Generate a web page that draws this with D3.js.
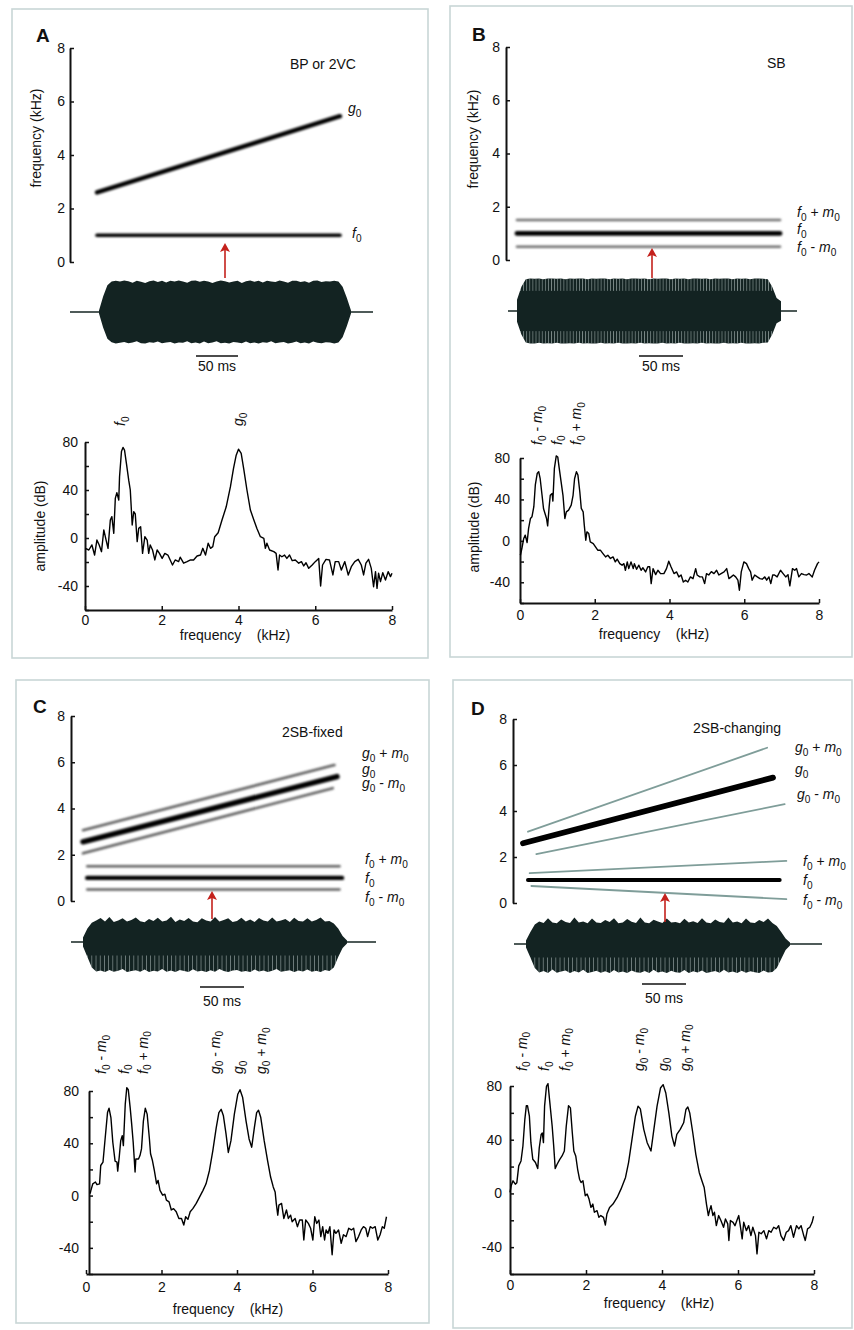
<!DOCTYPE html>
<html>
<head>
<meta charset="utf-8">
<script src="https://cdn.jsdelivr.net/npm/d3@7/dist/d3.min.js"></script>
<style>
  html,body{margin:0;padding:0;background:#fff;}
  svg text{font-family:"Liberation Sans", Arial, Helvetica, sans-serif; fill:#111;}
</style>
</head>
<body>
<svg id="fig" width="854" height="1330" viewBox="0 0 854 1330"></svg>
<script>
// ================= DATA =================
const freqTicks = [0, 2, 4, 6, 8];
const sgTicks = [0, 2, 4, 6, 8];
const dbTicks = [-60, -40, -20, 0, 20, 40, 60, 80];
const dbTickLabels = [-40, 0, 40, 80];
const panelLetters = ["A", "B", "C", "D"];
const panelTitles = ["BP or 2VC", "SB", "2SB-fixed", "2SB-changing"];
const scaleBarLabel = "50 ms";
const scaleBarMs = 50;

// spectrogram component lines (frequency in kHz, time in ms)
const sgA_label = ["g0", "f0"];
const sgA_fStart = [2.6, 1.0];
const sgA_fEnd = [5.45, 1.0];
const sgA_tStart = [0, 0];
const sgA_tEnd = [300, 300];

const sgB_label = ["f0 + m0", "f0", "f0 - m0"];
const sgB_fStart = [1.5, 1.0, 0.5];
const sgB_fEnd = [1.5, 1.0, 0.5];
const sgB_tStart = [0, 0, 0];
const sgB_tEnd = [300, 300, 300];

const sgC_label = ["g0 + m0", "g0", "g0 - m0", "f0 + m0", "f0", "f0 - m0"];
const sgC_fStart = [3.06, 2.56, 2.06, 1.5, 1.0, 0.5];
const sgC_fEnd = [5.88, 5.38, 4.88, 1.5, 1.0, 0.5];
const sgC_tStart = [0, 0, 0, 5, 5, 5];
const sgC_tEnd = [297, 300, 295, 303, 306, 303];

const sgD_label = ["g0 + m0", "g0", "g0 - m0", "f0 + m0", "f0", "f0 - m0"];
const sgD_fStart = [3.1, 2.6, 2.13, 1.3, 1.0, 0.74];
const sgD_fEnd = [6.75, 5.45, 4.3, 1.83, 1.0, 0.17];
const sgD_tStart = [6, 0, 16, 8, 6, 10];
const sgD_tEnd = [293, 300, 314, 316, 308, 316];

// waveform envelopes (relative amplitude) sampled every 5 ms over 0..300 ms
const waveTime = d3.range(0, 301, 5);
const waveA_top = [0.05,0.5,0.85,0.97,0.99,0.97,1,0.98,0.93,0.99,0.96,0.92,0.98,1,0.95,0.99,0.94,0.99,0.97,1,0.97,0.93,0.99,1,0.96,0.99,0.97,0.92,0.97,1,0.98,0.94,0.97,0.99,0.92,0.98,1,0.96,0.99,0.94,0.99,0.97,0.95,1,0.97,0.93,0.99,0.99,0.95,0.98,0.93,0.99,1,0.95,0.98,0.97,0.99,0.97,0.8,0.45,0.05];
const waveA_bot = [0.05,0.5,0.85,0.96,1,0.98,0.95,0.99,0.97,0.93,0.99,1,0.96,0.98,0.94,0.99,0.97,0.95,1,0.97,0.98,0.93,0.99,0.97,1,0.94,0.99,0.97,0.93,0.99,0.98,1,0.95,0.97,0.99,0.94,0.99,0.97,1,0.96,0.98,0.93,0.99,0.97,0.95,1,0.98,0.94,0.99,0.97,1,0.94,0.98,0.99,0.96,0.97,1,0.97,0.8,0.45,0.05];
const waveB_top = [0.35,0.75,0.98,1,0.99,1,0.98,1,1,0.99,1,0.98,1,0.99,1,1,0.98,1,0.99,1,1,0.98,1,0.99,1,0.98,1,1,0.99,1,0.98,1,0.99,1,1,0.98,1,0.99,1,0.98,1,1,0.99,1,0.98,1,0.99,1,1,0.98,1,0.99,1,0.98,1,1,0.99,0.98,0.75,0.4,0.3];
const waveB_bot = [0.33,0.72,0.97,1,1,0.98,1,0.99,1,0.98,1,1,0.99,1,0.98,1,0.99,1,1,0.98,1,0.99,1,0.98,1,1,0.99,1,0.98,1,0.99,1,1,0.98,1,0.99,1,0.98,1,1,0.99,1,0.98,1,0.99,1,1,0.98,1,0.99,1,0.98,1,1,0.99,1,0.98,0.97,0.72,0.38,0.3];
const waveC_top = [0.15,0.45,0.64,0.72,0.8,0.68,0.83,0.67,0.72,0.79,0.68,0.73,0.82,0.69,0.66,0.77,0.7,0.81,0.68,0.72,0.84,0.67,0.75,0.7,0.8,0.68,0.66,0.79,0.72,0.68,0.83,0.68,0.73,0.79,0.67,0.7,0.81,0.68,0.75,0.67,0.8,0.72,0.68,0.82,0.68,0.72,0.77,0.67,0.81,0.7,0.68,0.79,0.68,0.73,0.82,0.68,0.7,0.62,0.45,0.2,0.05];
const waveC_bot = [0.15,0.5,0.85,0.98,0.95,1,0.93,0.99,0.96,0.9,1,0.97,0.94,0.99,0.92,1,0.96,0.98,0.9,0.99,0.95,1,0.93,0.97,1,0.91,0.98,0.96,1,0.94,0.99,0.9,0.97,1,0.95,0.93,0.99,0.97,1,0.92,0.98,0.95,1,0.96,0.9,0.99,0.97,0.94,1,0.95,0.98,0.92,0.99,0.96,1,0.93,0.97,0.85,0.5,0.2,0.05];
const waveD_top = [0.12,0.4,0.65,0.75,0.7,0.86,0.72,0.69,0.82,0.73,0.7,0.88,0.72,0.75,0.69,0.85,0.72,0.7,0.8,0.73,0.86,0.69,0.72,0.83,0.74,0.7,0.88,0.72,0.69,0.81,0.75,0.7,0.85,0.72,0.73,0.69,0.84,0.72,0.76,0.7,0.86,0.72,0.69,0.82,0.73,0.71,0.88,0.72,0.75,0.69,0.85,0.72,0.7,0.8,0.73,0.85,0.7,0.6,0.4,0.18,0.05];
const waveD_bot = [0.12,0.45,0.8,0.95,0.9,0.97,0.85,0.96,0.92,0.88,0.97,0.9,0.95,0.86,0.97,0.93,0.89,0.96,0.91,0.97,0.87,0.95,0.92,0.97,0.88,0.94,0.96,0.9,0.97,0.86,0.95,0.92,0.97,0.89,0.94,0.96,0.87,0.97,0.91,0.95,0.88,0.97,0.93,0.9,0.96,0.86,0.95,0.92,0.97,0.89,0.96,0.91,0.94,0.97,0.88,0.95,0.93,0.8,0.5,0.2,0.05];

// spectra (frequency kHz, amplitude dB)
const specA_freq = [0.01,0.10,0.18,0.25,0.31,0.37,0.43,0.49,0.55,0.60,0.66,0.70,0.75,0.79,0.83,0.88,0.90,0.95,0.99,1.03,1.08,1.14,1.18,1.23,1.27,1.31,1.36,1.40,1.45,1.50,1.56,1.62,1.66,1.70,1.76,1.82,1.88,1.94,2.01,2.08,2.16,2.22,2.28,2.35,2.44,2.48,2.57,2.66,2.75,2.83,2.92,3.01,3.07,3.14,3.21,3.27,3.33,3.38,3.47,3.57,3.68,3.79,3.87,3.94,4.00,4.07,4.14,4.22,4.31,4.40,4.48,4.57,4.66,4.70,4.74,4.81,4.92,4.98,5.03,5.07,5.13,5.20,5.26,5.33,5.40,5.48,5.57,5.64,5.70,5.76,5.83,5.92,6.00,6.09,6.14,6.19,6.28,6.37,6.46,6.52,6.61,6.68,6.77,6.86,6.94,7.03,7.12,7.20,7.26,7.32,7.39,7.46,7.52,7.57,7.61,7.65,7.70,7.76,7.83,7.90,7.96,8.00];
const specA_db = [-8.6,-10,-5.8,-14.2,-1.7,-5.8,-11.4,6.7,-1.7,-8.6,15,17.8,3.9,33,37.8,31.7,51,72,75.5,73.3,62,48,40,10.8,22,20,-3,8,9.4,-12.8,1.1,-1.7,-12.8,-5.8,-10,-18.3,-10,-12.8,-17,-12.8,-14.2,-18.3,-22.5,-18.3,-19.7,-16,-21,-19.7,-18.3,-18.3,-15,-14.2,-8.6,-14.2,-4.4,-8.6,-7.2,1.1,4.4,15,26,42.8,58,69,74,70.5,56.7,40,23.3,15,8,1.1,-0.3,-8.6,-4.4,-10,-11.4,-12.8,-26.7,-14.2,-15.6,-14.2,-17,-14.2,-18.9,-18.3,-21,-19.7,-23.3,-20.6,-25.3,-22.5,-19.7,-17,-40,-22.5,-17.8,-18.3,-30.8,-19.7,-19.7,-26.7,-19.7,-30.8,-23.9,-19.7,-17.8,-22.5,-30.8,-21,-17.8,-25.3,-40.6,-28,-42,-29.4,-36.4,-28.9,-35,-28,-32.2,-29.4];

const specB_freq = [0.01,0.05,0.10,0.14,0.19,0.23,0.28,0.32,0.37,0.41,0.46,0.50,0.54,0.59,0.63,0.71,0.74,0.78,0.81,0.86,0.88,0.92,0.97,1.01,1.05,1.10,1.15,1.20,1.24,1.30,1.37,1.42,1.46,1.51,1.55,1.60,1.64,1.69,1.72,1.76,1.79,1.84,1.88,1.96,2.02,2.08,2.15,2.22,2.29,2.35,2.42,2.49,2.55,2.60,2.67,2.73,2.78,2.82,2.87,2.91,2.97,3.03,3.06,3.12,3.18,3.24,3.29,3.36,3.42,3.47,3.51,3.56,3.63,3.69,3.76,3.85,3.92,3.98,4.04,4.12,4.19,4.25,4.31,4.37,4.43,4.49,4.56,4.63,4.70,4.74,4.81,4.88,4.94,4.99,5.05,5.12,5.19,5.26,5.32,5.38,5.46,5.53,5.59,5.65,5.71,5.77,5.83,5.87,5.92,5.99,6.06,6.12,6.17,6.21,6.28,6.35,6.42,6.48,6.55,6.60,6.66,6.71,6.76,6.81,6.88,6.97,7.04,7.11,7.17,7.22,7.29,7.35,7.40,7.46,7.53,7.60,7.67,7.73,7.82,7.88,7.96,8.00];
const specB_db = [-13.9,-7.4,2.3,5.5,-1.6,12,21.6,23.2,33,54,65,66.8,60,44,31,21.6,14.5,33,44,45.8,38.4,70,82,81,70,57,44,21.6,28,29.7,34.5,44,60,66.8,63.5,47.4,31.3,28,15.2,0.6,8.7,7,-1,-2.6,-5.8,-9,-9,-12.3,-15.5,-13.9,-17,-15.5,-20.3,-17.7,-22,-23.5,-22,-28.4,-20.3,-26.8,-20.3,-26.8,-22,-27.4,-23.5,-28.4,-26,-30,-25,-25,-41.3,-26.8,-32.6,-28.4,-31.6,-31.6,-26.8,-19.7,-25,-31.6,-30,-34.8,-33,-39.7,-38,-39.7,-34.8,-36.5,-26.8,-33,-34.8,-34.8,-41.3,-31.6,-33,-29.7,-31.6,-28.4,-33,-31.6,-30,-26.8,-36.5,-34.8,-33,-34.8,-38,-47.7,-30,-20.3,-22,-26.8,-30,-38,-33,-34.8,-36.5,-37,-34.8,-38,-34.8,-41.3,-33,-33,-34.8,-28.4,-31.6,-34.8,-32.6,-43.5,-26.8,-28.4,-26.8,-34.8,-31.6,-32.6,-33,-31.6,-34.8,-28.4,-22,-20.3];

const specC_freq = [0.11,0.13,0.18,0.25,0.29,0.36,0.39,0.45,0.51,0.57,0.61,0.66,0.71,0.77,0.82,0.84,0.88,0.92,0.96,0.99,1.04,1.08,1.12,1.17,1.21,1.25,1.30,1.32,1.39,1.43,1.47,1.52,1.57,1.62,1.68,1.71,1.76,1.81,1.87,1.91,1.96,2.03,2.09,2.13,2.20,2.26,2.32,2.39,2.46,2.53,2.59,2.64,2.70,2.76,2.83,2.92,3.01,3.10,3.18,3.27,3.36,3.45,3.52,3.58,3.64,3.71,3.77,3.84,3.93,4.02,4.08,4.15,4.24,4.32,4.39,4.46,4.52,4.57,4.63,4.72,4.81,4.89,4.96,5.01,5.04,5.08,5.11,5.18,5.24,5.31,5.36,5.42,5.46,5.54,5.60,5.66,5.73,5.77,5.82,5.89,5.95,6.01,6.06,6.11,6.17,6.22,6.27,6.32,6.36,6.41,6.46,6.52,6.57,6.62,6.69,6.76,6.82,6.89,6.96,7.03,7.09,7.15,7.22,7.29,7.35,7.41,7.46,7.53,7.59,7.66,7.73,7.79,7.85,7.90,7.96];
const specC_db = [1.5,4,9,10.4,8.4,9,23,25.6,44.6,63.5,66.8,59.7,40.8,26.3,25.6,18.7,29.4,42,45.8,38.2,70,82.5,81,67.3,54.7,40.8,18,28,28,30.6,35.7,57,66.8,62.3,43.3,32,26.8,19.2,9,11.6,4,0.3,1,-3.5,-4.8,-11,-10,-12.4,-17.5,-17.5,-22.5,-16.2,-18.2,-12.4,-10,-6,-1,4,9,19.2,34.4,52,63.5,66,61,47,33,42,62.3,77.5,81,75,57,43.3,37,52,63.5,65.3,59.7,42,26.8,14.2,6.6,2.8,-6,-15,-7.3,-6,-17.5,-11,-17.5,-15,-20,-17.5,-23.8,-18.7,-18.7,-34,-18.7,-21.3,-25,-34,-16.2,-21.3,-18.7,-31.4,-23.8,-34,-26.3,-28.9,-23.8,-45.3,-26.3,-28.9,-26.3,-36.5,-30,-31.4,-25,-26.3,-25,-35.2,-31.4,-26.3,-23.8,-25,-31.4,-23.8,-25,-23.8,-34,-30,-23.8,-25,-16.2];

const specD_freq = [0,0.03,0.08,0.14,0.18,0.23,0.29,0.34,0.39,0.43,0.46,0.51,0.55,0.60,0.67,0.73,0.77,0.82,0.85,0.88,0.91,0.96,1.00,1.04,1.11,1.15,1.19,1.24,1.31,1.37,1.43,1.48,1.54,1.59,1.64,1.68,1.73,1.78,1.83,1.87,1.92,1.98,2.03,2.08,2.13,2.18,2.22,2.29,2.34,2.39,2.46,2.51,2.55,2.62,2.71,2.82,2.92,3.04,3.12,3.21,3.30,3.37,3.43,3.52,3.61,3.71,3.78,3.87,3.96,4.03,4.10,4.18,4.26,4.33,4.39,4.48,4.57,4.63,4.68,4.73,4.81,4.89,4.98,5.05,5.11,5.17,5.22,5.25,5.29,5.34,5.38,5.43,5.49,5.55,5.62,5.67,5.73,5.76,5.80,5.87,5.92,5.97,6.02,6.06,6.11,6.15,6.22,6.28,6.34,6.39,6.46,6.50,6.55,6.61,6.68,6.75,6.81,6.87,6.94,7.01,7.07,7.13,7.20,7.27,7.33,7.39,7.46,7.54,7.60,7.66,7.73,7.77,7.83,7.89,7.95,7.99];
const specD_db = [0.7,5.7,9.4,6.9,8,20.5,24.2,35.3,55,65.4,65.4,57.5,37.8,25.4,23,18.5,34,44,45,37.8,65,79.8,81.7,70,50,35.3,18.5,21.7,25.4,27.9,31.6,50,65.4,63.7,45,31.6,27.9,18,10.6,8.1,9.4,-1.7,-0.5,-4.2,-10.4,-7.9,-14,-12.8,-17.8,-16.5,-17.8,-23.5,-15.3,-10.4,-7.9,-3,3.2,11.9,23,40.2,57.5,65,63,47.7,37.8,31.6,46.4,65,78.5,81,74.8,60,42.7,35.3,44,47.7,52.6,62.5,64.4,60,45.2,29.1,15.6,9.4,4.4,-7.9,-16.5,-12.8,-9.1,-16.5,-14,-24,-16.5,-20.2,-25.2,-19,-22.7,-35,-20.2,-21.5,-24,-20.2,-16.5,-24,-33.8,-21.5,-27.7,-24,-31.4,-25.2,-31.4,-45,-28.9,-30,-27.7,-33.8,-27.7,-28.9,-25.2,-26.4,-24,-31.4,-35,-28.9,-27.7,-24,-32.6,-24,-26.4,-24,-31.4,-35,-26.4,-25.2,-21.5,-17];

const peakA_label = ["f0", "g0"];
const peakB_label = ["f0 - m0", "f0", "f0 + m0"];
const peakC_label = ["f0 - m0", "f0", "f0 + m0", "g0 - m0", "g0", "g0 + m0"];
const peakD_label = ["f0 - m0", "f0", "f0 + m0", "g0 - m0", "g0", "g0 + m0"];

// ================= LAYOUT =================
const layout = {
  A: {
    border: [12, 9, 428, 658], letter: [36, 42], title: [290, 69],
    sg: { axisX: 70, y0: 262, y8: 48, pad: 5, yLabel: [41, 138], x0: 97, x1: 340,
          widths: [4.4, 3.6], sideColor: "#777", blur: "blur1",
          labelPos: [[348, 113], [352, 238]] },
    arrow: { x: 225, yFrom: 278, yTo: 243 },
    wave: { base: 312, onsetX: 99, pxPerMs: 0.84, amp: 31.5, x0: 70, x1: 373, stripes: [] },
    bar: { x: 196, y: 356, textY: 371 },
    spec: { x0: 85, x8: 392, yMin: 610, yMax: 442, axisX: 85, pad: 7, tickPad: 5,
            xLabel: [235, 640], yLabel: [45, 526], peakFreqs: [0.93, 4.0], peakY: 426 }
  },
  B: {
    border: [450, 6, 852, 657], letter: [472, 41], title: [767, 68],
    sg: { axisX: 506, y0: 260, y8: 47, pad: 6, yLabel: [478, 139], x0: 517, x1: 780,
          widths: [2.6, 4.8, 2.6], sideColor: "#6e6e6e", blur: "blur1",
          labelPos: [[797, 217], [797, 234], [797, 252]] },
    arrow: { x: 652, yFrom: 278, yTo: 248 },
    wave: { base: 311, onsetX: 517, pxPerMs: 0.88, amp: 32.5, x0: 508, x1: 797,
            stripes: [[0.62, 1.01], [-1.01, -0.62]], stripeW: 3.1 },
    bar: { x: 639, y: 356, textY: 371 },
    spec: { x0: 520, x8: 819, yMin: 603, yMax: 458, axisX: 520, pad: 10, tickPad: 7,
            xLabel: [654, 639], yLabel: [479, 527], peakFreqs: [0.48, 0.99, 1.52], peakY: 445 }
  },
  C: {
    border: [16, 680, 429, 1323], letter: [33, 713], title: [282, 737],
    sg: { axisX: 71, y0: 901, y8: 716, pad: 6, yLabel: null, x0: 83, x1: 337,
          widths: [2.6, 5.4, 2.6, 2.4, 4.4, 2.4], sideColor: "#5e5e5e", blur: "blur1",
          labelPos: [[362, 758], [362, 774], [362, 788], [365, 864], [365, 883], [365, 902]] },
    arrow: { x: 212, yFrom: 919, yTo: 891 },
    wave: { base: 942, onsetX: 83, pxPerMs: 0.88, amp: 30, x0: 71, x1: 376,
            stripes: [[-1.01, -0.45]], stripeW: 4.2 },
    bar: { x: 200, y: 987, textY: 1006 },
    spec: { x0: 86, x8: 388, yMin: 1274, yMax: 1091, axisX: 89, pad: 10, tickPad: 8,
            xLabel: [228, 1314], yLabel: null, peakFreqs: [0.42, 1.01, 1.51, 3.42, 4.05, 4.66], peakY: 1074 }
  },
  D: {
    border: [453, 680, 852, 1328], letter: [471, 715], title: [693, 733],
    sg: { axisX: 513, y0: 903, y8: 719, pad: 6, yLabel: null, x0: 523, x1: 773,
          widths: [1.8, 5.8, 1.8, 1.8, 4.0, 1.8], sideColor: "#7f9d99", blur: "blur2",
          labelPos: [[795, 752], [795, 774], [797, 799], [803, 866], [803, 885], [803, 905]] },
    arrow: { x: 665, yFrom: 922, yTo: 893 },
    wave: { base: 944, onsetX: 526, pxPerMs: 0.88, amp: 30, x0: 514, x1: 822,
            stripes: [[-1.01, -0.45]], stripeW: 4.2 },
    bar: { x: 642, y: 984, textY: 1003 },
    spec: { x0: 510, x8: 814, yMin: 1274, yMax: 1086, axisX: 510, pad: 8, tickPad: 6,
            xLabel: [659, 1308], yLabel: null, peakFreqs: [0.32, 0.92, 1.45, 3.42, 4.03, 4.61], peakY: 1071 }
  }
};

const panelData = {
  A: { letter: panelLetters[0], title: panelTitles[0], sgLabel: sgA_label, sgFStart: sgA_fStart, sgFEnd: sgA_fEnd, sgTStart: sgA_tStart, sgTEnd: sgA_tEnd, waveTop: waveA_top, waveBot: waveA_bot, specFreq: specA_freq, specDb: specA_db, peakLabel: peakA_label },
  B: { letter: panelLetters[1], title: panelTitles[1], sgLabel: sgB_label, sgFStart: sgB_fStart, sgFEnd: sgB_fEnd, sgTStart: sgB_tStart, sgTEnd: sgB_tEnd, waveTop: waveB_top, waveBot: waveB_bot, specFreq: specB_freq, specDb: specB_db, peakLabel: peakB_label },
  C: { letter: panelLetters[2], title: panelTitles[2], sgLabel: sgC_label, sgFStart: sgC_fStart, sgFEnd: sgC_fEnd, sgTStart: sgC_tStart, sgTEnd: sgC_tEnd, waveTop: waveC_top, waveBot: waveC_bot, specFreq: specC_freq, specDb: specC_db, peakLabel: peakC_label },
  D: { letter: panelLetters[3], title: panelTitles[3], sgLabel: sgD_label, sgFStart: sgD_fStart, sgFEnd: sgD_fEnd, sgTStart: sgD_tStart, sgTEnd: sgD_tEnd, waveTop: waveD_top, waveBot: waveD_bot, specFreq: specD_freq, specDb: specD_db, peakLabel: peakD_label }
};

// ================= DRAWING =================
const svg = d3.select("#fig");
const defs = svg.append("defs");
[["blur1", 0.8], ["blur2", 0.3]].forEach(([id, s]) => {
  defs.append("filter").attr("id", id).attr("filterUnits", "userSpaceOnUse")
    .attr("x", 0).attr("y", 0).attr("width", 854).attr("height", 1330)
    .append("feGaussianBlur").attr("stdDeviation", s);
});

function richText(parent, str, size) {
  const t = parent.append("text").attr("font-size", size).style("white-space", "pre");
  const tokens = str.match(/[a-z]|[0-9]|[^a-z0-9]+/g);
  const sh = size * 0.25;
  let low = false;
  tokens.forEach(tok => {
    const ts = t.append("tspan").text(tok);
    if (/^[0-9]$/.test(tok)) {
      ts.attr("font-size", size * 0.72).attr("dy", sh);
      low = true;
    } else {
      if (low) { ts.attr("dy", -sh); low = false; }
      if (/^[a-z]$/.test(tok)) ts.attr("font-style", "italic");
    }
  });
  return t;
}

function styleAxis(ax) {
  ax.attr("font-family", null).attr("font-size", 14);
  ax.select(".domain").attr("stroke", "#111").attr("stroke-width", 2);
  ax.selectAll(".tick line").attr("stroke", "#111").attr("stroke-width", 1.5);
  ax.selectAll(".tick text").attr("fill", "#111");
}

function drawPanel(key) {
  const L = layout[key], D = panelData[key];
  const g = svg.append("g").attr("id", "panel" + key);

  g.append("rect")
    .attr("x", L.border[0]).attr("y", L.border[1])
    .attr("width", L.border[2] - L.border[0]).attr("height", L.border[3] - L.border[1])
    .attr("fill", "none").attr("stroke", "#c9d6d6").attr("stroke-width", 1.6);

  g.append("text").attr("x", L.letter[0]).attr("y", L.letter[1])
    .attr("font-size", 19).attr("font-weight", "bold").text(D.letter);
  g.append("text").attr("x", L.title[0]).attr("y", L.title[1])
    .attr("font-size", 14).text(D.title);

  // ---- spectrogram sketch ----
  const S = L.sg;
  const yF = d3.scaleLinear([0, 8], [S.y0, S.y8]);
  const xT = d3.scaleLinear([0, 300], [S.x0, S.x1]);
  const axF = g.append("g").attr("transform", `translate(${S.axisX},0)`)
    .call(d3.axisLeft(yF).tickValues(sgTicks).tickSizeInner(-4).tickSizeOuter(0)
      .tickPadding(S.pad).tickFormat(v => String(v)));
  styleAxis(axF);
  if (S.yLabel) {
    g.append("text").attr("font-size", 14).attr("text-anchor", "middle")
      .attr("transform", `translate(${S.yLabel[0]},${S.yLabel[1]}) rotate(-90)`)
      .text("frequency (kHz)");
  }
  D.sgLabel.forEach((lab, i) => {
    const main = !lab.includes("m");
    g.append("line")
      .attr("x1", xT(D.sgTStart[i])).attr("y1", yF(D.sgFStart[i]))
      .attr("x2", xT(D.sgTEnd[i])).attr("y2", yF(D.sgFEnd[i]))
      .attr("stroke", main ? "#000" : S.sideColor)
      .attr("stroke-width", S.widths[i])
      .attr("stroke-linecap", "round")
      .attr("filter", `url(#${S.blur})`);
    richText(g, lab, 14).attr("x", S.labelPos[i][0]).attr("y", S.labelPos[i][1]);
  });

  // ---- waveform ----
  const W = L.wave;
  const xW = d3.scaleLinear([0, 300], [W.onsetX, W.onsetX + 300 * W.pxPerMs]);
  const yW = d3.scaleLinear([-1, 1], [W.base + W.amp, W.base - W.amp]);
  g.append("line").attr("x1", W.x0).attr("x2", W.x1).attr("y1", W.base).attr("y2", W.base)
    .attr("stroke", "#152422").attr("stroke-width", 1.4);
  const area = d3.area()
    .x((d, i) => xW(waveTime[i]))
    .y0((d, i) => yW(-D.waveBot[i]))
    .y1((d, i) => yW(D.waveTop[i]));
  g.append("path").attr("d", area(D.waveTop)).attr("fill", "#132322");
  if (W.stripes.length) {
    const cid = "wclip" + key;
    defs.append("clipPath").attr("id", cid).append("path").attr("d", area(D.waveTop));
    const pid = "stripe" + key;
    const pat = defs.append("pattern").attr("id", pid).attr("patternUnits", "userSpaceOnUse")
      .attr("x", W.onsetX).attr("width", W.stripeW).attr("height", 8);
    pat.append("rect").attr("x", 0).attr("y", 0).attr("width", 0.8).attr("height", 8)
      .attr("fill", "rgba(225,238,236,0.5)");
    W.stripes.forEach(([a, b]) => {
      g.append("rect").attr("clip-path", `url(#${cid})`)
        .attr("x", xW(0)).attr("width", xW(300) - xW(0))
        .attr("y", yW(b)).attr("height", yW(a) - yW(b))
        .attr("fill", `url(#${pid})`);
    });
  }

  // red arrow
  const A = L.arrow;
  g.append("line").attr("x1", A.x).attr("x2", A.x).attr("y1", A.yFrom).attr("y2", A.yTo + 6)
    .attr("stroke", "#c4211c").attr("stroke-width", 1.6);
  g.append("path")
    .attr("d", `M${A.x},${A.yTo} L${A.x - 5},${A.yTo + 9} L${A.x},${A.yTo + 7} L${A.x + 5},${A.yTo + 9} Z`)
    .attr("fill", "#c4211c");

  // scale bar
  const B = L.bar;
  const barLen = xW(scaleBarMs) - xW(0);
  g.append("line").attr("x1", B.x).attr("x2", B.x + barLen).attr("y1", B.y).attr("y2", B.y)
    .attr("stroke", "#111").attr("stroke-width", 1.6);
  g.append("text").attr("x", B.x + barLen / 2).attr("y", B.textY).attr("text-anchor", "middle")
    .attr("font-size", 14).text(scaleBarLabel);

  // ---- spectrum ----
  const P = L.spec;
  const xS = d3.scaleLinear([0, 8], [P.x0, P.x8]);
  const yS = d3.scaleLinear([-60, 80], [P.yMin, P.yMax]);
  const axX = g.append("g").attr("transform", `translate(0,${P.yMin})`)
    .call(d3.axisBottom(xS).tickValues(freqTicks).tickSizeInner(-4).tickSizeOuter(0)
      .tickPadding(P.tickPad).tickFormat(v => String(v)));
  styleAxis(axX);
  const axY = g.append("g").attr("transform", `translate(${P.axisX},0)`)
    .call(d3.axisLeft(yS).tickValues(dbTicks).tickSizeInner(-4).tickSizeOuter(0)
      .tickPadding(P.pad).tickFormat(v => dbTickLabels.includes(v) ? String(v) : ""));
  styleAxis(axY);

  const line = d3.line().x((f) => xS(f)).y((f, i) => yS(D.specDb[i])).curve(d3.curveLinear);
  g.append("path").attr("d", line(D.specFreq)).attr("fill", "none")
    .attr("stroke", "#000").attr("stroke-width", 1.4).attr("stroke-linejoin", "round");

  g.append("text").attr("x", P.xLabel[0]).attr("y", P.xLabel[1]).attr("text-anchor", "middle")
    .attr("font-size", 14).style("white-space", "pre").text("frequency    (kHz)");
  if (P.yLabel) {
    g.append("text").attr("font-size", 14).attr("text-anchor", "middle")
      .attr("transform", `translate(${P.yLabel[0]},${P.yLabel[1]}) rotate(-90)`)
      .text("amplitude (dB)");
  }
  D.peakLabel.forEach((lab, i) => {
    richText(g, lab, 14)
      .attr("transform", `translate(${xS(P.peakFreqs[i]) + 4.5},${P.peakY}) rotate(-90)`);
  });
}

["A", "B", "C", "D"].forEach(drawPanel);
</script>
</body>
</html>
